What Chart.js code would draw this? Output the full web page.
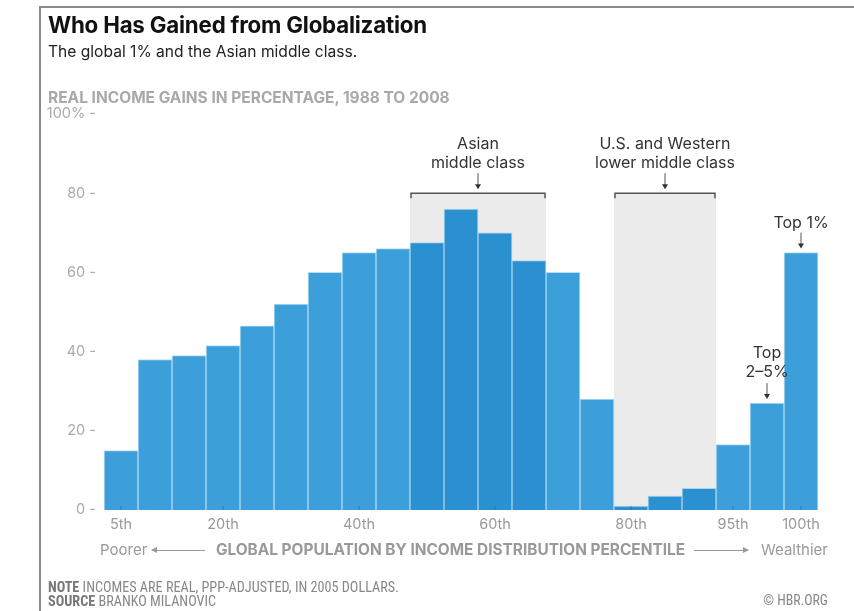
<!DOCTYPE html>
<html>
<head>
<meta charset="utf-8">
<script src="https://cdn.jsdelivr.net/npm/chart.js@4.4.1/dist/chart.umd.min.js"></script>
<style>
  body { margin: 0; background: #fff; }
  #wrap { position: relative; width: 854px; height: 611px; overflow: hidden; font-family: Inter, "Noto Sans", sans-serif; }
  #frame { position: absolute; left: 39px; top: 6px; width: 830px; height: 620px; border-left: 2px solid #8a8a8a; border-top: 2px solid #8a8a8a; }
  canvas { position: absolute; left: 0; top: 0; }
  .t { position: absolute; white-space: nowrap; line-height: 1; }
  #title { left: 48px; top: 14px; font-size: 22.3px; font-weight: 700; color: #111; letter-spacing: -0.2px; }
  #sub { left: 48px; top: 44px; font-size: 15.6px; color: #222; }
  #head { left: 48px; top: 90px; font-size: 15.5px; font-weight: 700; color: #a9a9a9; }
  .xt { top: 542px; font-size: 15px; color: #999; }
  #poorer { left: 100px; }
  #wealthier { right: 26px; }
  #xmain { left: 213px; width: 475px; text-align: center; font-weight: 700; font-size: 15.4px; }
  .arr { position: absolute; top: 550px; height: 0; border-top: 1px solid #999; }
  .arr::after { content: ''; position: absolute; top: -4px; border-top: 3.5px solid transparent; border-bottom: 3.5px solid transparent; }
  #arrL { left: 152px; width: 53px; }
  #arrL::after { left: -1px; border-right: 6px solid #999; }
  #arrR { left: 694px; width: 54px; }
  #arrR::after { right: -1px; border-left: 6px solid #999; }
  .note { font-family: "Liberation Sans Narrow", "Roboto Condensed", "Liberation Sans", sans-serif; font-size: 14.2px; color: #888; }
  .note b { color: #777; }
  #note1 { left: 48px; top: 580px; }
  #note2 { left: 48px; top: 594px; }
  #copy { right: 26px; top: 594px; font-size: 13.8px; }
</style>
</head>
<body>
<div id="wrap">
  <div id="frame"></div>
  <canvas id="gainsChart" width="854" height="611"></canvas>
  <div class="t" id="title">Who Has Gained from Globalization</div>
  <div class="t" id="sub">The global 1% and the Asian middle class.</div>
  <div class="t" id="head">REAL INCOME GAINS IN PERCENTAGE, 1988 TO 2008</div>
  <div class="t xt" id="poorer">Poorer</div>
  <div class="arr" id="arrL"></div>
  <div class="t xt" id="xmain">GLOBAL POPULATION BY INCOME DISTRIBUTION PERCENTILE</div>
  <div class="arr" id="arrR"></div>
  <div class="t xt" id="wealthier">Wealthier</div>
  <div class="t note" id="note1"><b>NOTE</b> INCOMES ARE REAL, PPP-ADJUSTED, IN 2005 DOLLARS.</div>
  <div class="t note" id="note2"><b>SOURCE</b> BRANKO MILANOVIC</div>
  <div class="t note" id="copy">© HBR.ORG</div>
</div>
<script>
const percentiles = ['5th', '10th', '15th', '20th', '25th', '30th', '35th', '40th', '45th', '50th', '55th',
    '60th', '65th', '70th', '75th', '80th', '85th', '90th', '95th', '99th', '100th'];
const gains = [15, 38, 39, 41.5, 46.5, 52, 60, 65, 66, 67.5, 76, 70, 63, 60, 28, 1, 3.5, 5.5, 16.5, 27, 65];
const shownTicks = ['5th', '20th', '40th', '60th', '80th', '95th', '100th'];
const yTicks = [0, 20, 40, 60, 80, 100];

// groups highlighted with a gray band and a bracket
const asianGroup = ['50th', '65th'];
const westernGroup = ['80th', '90th'];

const lightBlue = '#3d9fd9';
const darkBlue = '#2a90d0';
const annoFont = '16px Inter, "Noto Sans", sans-serif';

function inGroup(i, g) {
    return i >= percentiles.indexOf(g[0]) && i <= percentiles.indexOf(g[1]);
}

const annotations = {
    id: 'annotations',
    beforeDatasetsDraw(chart) {
        const { ctx, scales: { x, y } } = chart;
        const half = (x.getPixelForValue(1) - x.getPixelForValue(0)) / 2;
        ctx.save();
        ctx.fillStyle = '#ebebeb';
        [asianGroup, westernGroup].forEach(g => {
            const l = x.getPixelForValue(percentiles.indexOf(g[0])) - half;
            const r = x.getPixelForValue(percentiles.indexOf(g[1])) + half;
            ctx.fillRect(l, y.getPixelForValue(80), r - l, y.getPixelForValue(0) - y.getPixelForValue(80));
        });
        ctx.restore();
    },
    afterDatasetsDraw(chart) {
        const { ctx, scales: { x, y } } = chart;
        const half = (x.getPixelForValue(1) - x.getPixelForValue(0)) / 2;
        const arrow = (cx, y1, y2) => {
            ctx.beginPath();
            ctx.moveTo(cx, y1);
            ctx.lineTo(cx, y2 - 4);
            ctx.stroke();
            ctx.beginPath();
            ctx.moveTo(cx - 3, y2 - 5);
            ctx.lineTo(cx + 3, y2 - 5);
            ctx.lineTo(cx, y2);
            ctx.closePath();
            ctx.fill();
        };
        ctx.save();
        ctx.strokeStyle = '#555';
        ctx.fillStyle = '#333';
        ctx.lineWidth = 1.5;
        ctx.font = annoFont;
        ctx.textAlign = 'center';
        ctx.textBaseline = 'alphabetic';
        const top = y.getPixelForValue(80);
        [[asianGroup, ['Asian', 'middle class']], [westernGroup, ['U.S. and Western', 'lower middle class']]].forEach(([g, lines]) => {
            const l = x.getPixelForValue(percentiles.indexOf(g[0])) - half;
            const r = x.getPixelForValue(percentiles.indexOf(g[1])) + half;
            const c = (l + r) / 2;
            ctx.beginPath();
            ctx.moveTo(l + 1, top + 5);
            ctx.lineTo(l + 1, top);
            ctx.lineTo(r - 1, top);
            ctx.lineTo(r - 1, top + 5);
            ctx.stroke();
            ctx.fillText(lines[0], c, top - 44);
            ctx.fillText(lines[1], c, top - 25);
            ctx.lineWidth = 1;
            arrow(c, top - 20, top - 4);
            ctx.lineWidth = 1.5;
        });
        ctx.lineWidth = 1;
        // top 1%
        let i = percentiles.indexOf('100th');
        let cx = x.getPixelForValue(i);
        let by = y.getPixelForValue(gains[i]);
        ctx.fillText('Top 1%', cx, by - 25);
        arrow(cx, by - 20, by - 4);
        // top 2-5%
        i = percentiles.indexOf('99th');
        cx = x.getPixelForValue(i);
        by = y.getPixelForValue(gains[i]);
        ctx.fillText('Top', cx, by - 45);
        ctx.fillText('2–5%', cx, by - 26);
        arrow(cx, by - 20, by - 4);
        // small ticks at the base of the bars
        ctx.strokeStyle = 'rgba(20,90,150,0.5)';
        shownTicks.forEach(t => {
            const px = x.getPixelForValue(percentiles.indexOf(t));
            ctx.beginPath();
            ctx.moveTo(px, y.getPixelForValue(0));
            ctx.lineTo(px, y.getPixelForValue(0) - 4);
            ctx.stroke();
        });
        ctx.restore();
    }
};

const ctx = document.getElementById('gainsChart').getContext('2d');

const chart = new Chart(ctx, {
    type: 'bar',
    data: {
        labels: percentiles,
        datasets: [{
            label: 'Real income gains',
            data: gains,
            backgroundColor: gains.map((v, i) => inGroup(i, asianGroup) || inGroup(i, westernGroup) ? darkBlue : lightBlue),
            borderColor: 'rgba(120,195,240,0.55)',
            borderWidth: 1,
            barPercentage: 1,
            categoryPercentage: 1
        }]
    },
    options: {
        responsive: false,
        animation: false,
        layout: { padding: { left: 40, right: 36, top: 114, bottom: 71 } },
        plugins: {
            legend: { display: false },
            tooltip: { enabled: false }
        },
        scales: {
            x: {
                grid: { display: false },
                border: { display: false },
                ticks: {
                    autoSkip: false,
                    maxRotation: 0,
                    color: '#999',
                    font: { size: 14.5, family: 'Inter, "Noto Sans", sans-serif' },
                    padding: -2,
                    callback: function (v) {
                        const lab = percentiles[v];
                        return shownTicks.includes(lab) ? lab : '';
                    }
                },
                afterFit: s => { s.height = 30; }
            },
            y: {
                min: 0,
                max: 100,
                afterBuildTicks: s => { s.ticks = yTicks.map(v => ({ value: v })); },
                grid: { display: false },
                border: { display: false },
                ticks: {
                    color: '#aaa',
                    font: { size: 14.5, family: 'Inter, "Noto Sans", sans-serif' },
                    padding: 0,
                    callback: v => (v === 100 ? '100%' : v) + ' -'
                },
                afterFit: s => { s.width = 64; }
            }
        }
    },
    plugins: [annotations]
});
</script>
</body>
</html>
